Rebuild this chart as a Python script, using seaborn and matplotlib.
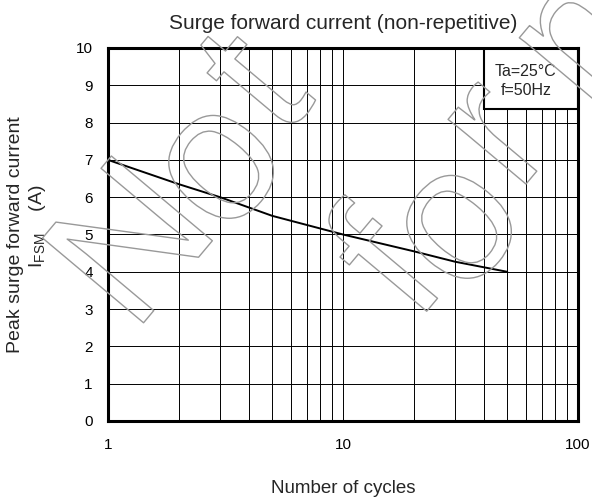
import matplotlib
matplotlib.use("Agg")
import matplotlib.pyplot as plt
import matplotlib.patheffects as pe
from matplotlib.patches import Rectangle
from matplotlib.ticker import LogLocator, NullFormatter
import seaborn as sns

# surge curve
cycles = [1, 2, 3, 5, 10, 20, 30, 50]
ifsm = [7.0, 6.35, 6.0, 5.5, 5.0, 4.55, 4.27, 4.0]

x_ticks = [1, 10, 100]
x_tick_labels = ["1", "10", "100"]
y_ticks = list(range(0, 11))

sns.set_style("white")
plt.rcParams["font.family"] = ["Liberation Sans", "DejaVu Sans"]
plt.rcParams["mathtext.fontset"] = "custom"
plt.rcParams["mathtext.rm"] = "Liberation Sans"
plt.rcParams["mathtext.it"] = "Liberation Sans"

W, H = 592, 500
fig = plt.figure(figsize=(W / 100, H / 100), dpi=100)
ax = fig.add_axes([108 / W, 1 - 421 / H, 470 / W, 373 / H])

sns.lineplot(x=cycles, y=ifsm, color="black", linewidth=1.4, ax=ax, zorder=3)

ax.set_xscale("log")
ax.set_xlim(1, 100)
ax.set_ylim(0, 10)
ax.set_xticks(x_ticks)
ax.set_xticklabels(x_tick_labels)
ax.xaxis.set_minor_locator(LogLocator(base=10, subs=range(2, 10)))
ax.xaxis.set_minor_formatter(NullFormatter())
ax.set_yticks(y_ticks)

ax.grid(True, which="both", axis="x", color="black", linewidth=0.7)
ax.grid(True, which="major", axis="y", color="black", linewidth=0.7)
ax.set_axisbelow(True)

for s in ax.spines.values():
    s.set_visible(True)
    s.set_color("black")
    s.set_linewidth(2.2)
    s.set_zorder(5)

ax.tick_params(axis="both", which="both", length=0, labelsize=11, colors="black")
ax.tick_params(axis="x", pad=12)
ax.tick_params(axis="y", pad=11)

ax.set_title("Surge forward current (non-repetitive)", fontsize=15, pad=14)
ax.set_xlabel("Number of cycles", fontsize=13.5)
ax.xaxis.set_label_coords(0.5, -0.158)
ax.set_ylabel("Peak surge forward current\n   I$_{\\mathrm{FSM}}$    (A)", fontsize=14)
ax.yaxis.set_label_coords(-0.128, 0.5)

# condition box in the upper right corner
ax.add_patch(Rectangle((0.8, 0.836), 0.2, 0.164, transform=ax.transAxes,
                       facecolor="white", edgecolor="black", linewidth=1.5, zorder=4))
ax.text(0.889, 0.936, "Ta=25°C", transform=ax.transAxes, ha="center", va="center",
        fontsize=11.5, zorder=6)
ax.text(0.889, 0.887, "f=50Hz", transform=ax.transAxes, ha="center", va="center",
        fontsize=11.5, zorder=6)

# outlined watermark, one glyph at a time
outline = [pe.Stroke(linewidth=1.0, foreground="#999999")]
glyphs = [("N", 140, 250), ("o", 222, 168), ("t", 262, 88),
          ("f", 395, 272), ("o", 460, 228), ("r", 500, 138), ("n", 585, 40)]
for ch, px, py in glyphs:
    fig.text(px / W, 1 - py / H, ch, fontsize=138, rotation=50, rotation_mode="anchor",
             ha="center", va="center", color="none", path_effects=outline, zorder=10)

fig.savefig("out.png", dpi=100)
